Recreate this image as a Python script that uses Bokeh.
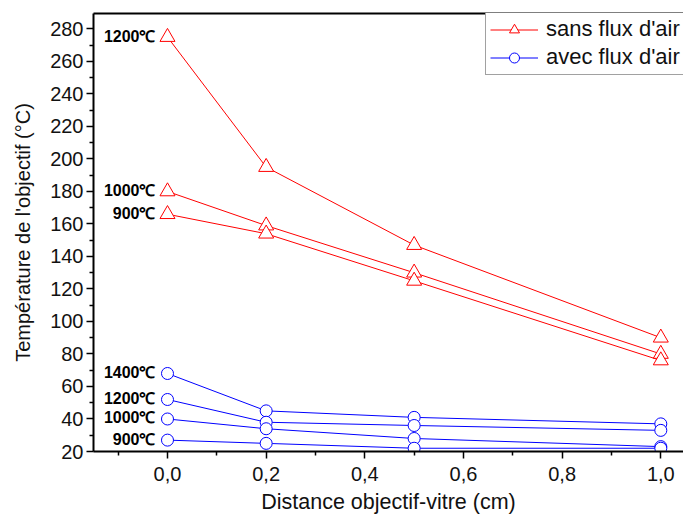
from bokeh.plotting import figure
from bokeh.models import (ColumnDataSource, FixedTicker, CustomJSTickFormatter, LinearAxis,
                          Legend, LegendItem, Range1d)
from bokeh.core.properties import value
from bokeh.embed import file_html
from bokeh.resources import INLINE

# ---- data ----
distance = [0.0, 0.2, 0.5, 1.0]

sans_labels = ["1200\u2103", "1000\u2103", "900\u2103"]
sans_1200 = [275, 195, 147, 90]
sans_1000 = [180, 159, 130, 80]
sans_900 = [166, 154, 125, 76]

avec_labels = ["1400\u2103", "1200\u2103", "1000\u2103", "900\u2103"]
avec_1400 = [68, 45, 41, 37]
avec_1200 = [52, 38, 36, 33]
avec_1000 = [40, 34, 28, 23]
avec_900 = [27, 25, 22, 22]

x_major = [0.0, 0.2, 0.4, 0.6, 0.8, 1.0]
x_minor = [-0.1, 0.1, 0.3, 0.5, 0.7, 0.9, 1.1]
y_major = list(range(20, 281, 20))
y_minor = list(range(30, 291, 20))

FONT = "Liberation Sans"
RED = "#ff0000"
BLUE = "#0000ff"

p = figure(width=683, height=520, output_backend="svg", toolbar_location=None,
           x_range=Range1d(-0.15, 1.046), y_range=Range1d(20, 289.5),
           min_border_left=93, min_border_right=0, min_border_top=13, min_border_bottom=69)
p.outline_line_color = None
p.xgrid.visible = False
p.ygrid.visible = False
p.background_fill_color = "white"

sans_series = [sans_1200, sans_1000, sans_900]
avec_series = [avec_1400, avec_1200, avec_1000, avec_900]

red_renderers = []
for ys in sans_series:
    src = ColumnDataSource(dict(x=distance, y=ys))
    l = p.line("x", "y", source=src, line_color=RED, line_width=1)
    m = p.scatter("x", "y", source=src, marker="triangle", size=15, line_color=RED,
                  fill_color="white", line_width=1)
    red_renderers += [l, m]

blue_renderers = []
for ys in avec_series:
    src = ColumnDataSource(dict(x=distance, y=ys))
    l = p.line("x", "y", source=src, line_color=BLUE, line_width=1)
    m = p.scatter("x", "y", source=src, marker="circle", size=12, line_color=BLUE,
                  fill_color="white", line_width=1)
    blue_renderers += [l, m]

# temperature labels at x = 0
lab_src = ColumnDataSource(dict(
    x=[distance[0]] * 7,
    y=[s[0] for s in sans_series] + [s[0] for s in avec_series],
    t=sans_labels + avec_labels,
))
p.text("x", "y", text="t", source=lab_src, text_align="right", text_baseline="middle",
       x_offset=-12, y_offset=-1, text_font=value(FONT), text_font_style="bold",
       text_font_size="16px", text_color="black")

# axes styling
fmt = CustomJSTickFormatter(code="return tick.toFixed(1).replace('.', ',');")
xa = p.xaxis[0]
xa.ticker = FixedTicker(ticks=x_major, minor_ticks=x_minor)
xa.formatter = fmt
ya = p.yaxis[0]
ya.ticker = FixedTicker(ticks=y_major, minor_ticks=y_minor)

for ax in (xa, ya):
    ax.axis_line_width = 2
    ax.axis_line_color = "black"
    ax.major_tick_line_width = 1.5
    ax.minor_tick_line_width = 1.5
    ax.major_tick_out = 7
    ax.major_tick_in = 0
    ax.minor_tick_out = 4
    ax.minor_tick_in = 0
    ax.major_label_text_font = FONT
    ax.major_label_text_font_size = "20px"
    ax.major_label_text_color = "#111111"
    ax.axis_label_text_font = FONT
    ax.axis_label_text_font_style = "normal"
    ax.axis_label_text_color = "#111111"

xa.axis_label = "Distance objectif-vitre (cm)"
xa.axis_label_text_font_size = "21.5px"
xa.major_label_standoff = 8
xa.axis_label_standoff = 6
ya.axis_label = "Température de l'objectif (°C)"
ya.axis_label_text_font_size = "20px"
ya.major_label_standoff = 3
ya.axis_label_standoff = 13

top = LinearAxis(ticker=FixedTicker(ticks=[]), axis_line_width=2, axis_line_color="black",
                 major_label_text_font_size="0px", major_tick_line_color=None,
                 minor_tick_line_color=None)
p.add_layout(top, "above")

legend = Legend(items=[
    LegendItem(label="sans flux d'air", renderers=red_renderers[:2]),
    LegendItem(label="avec flux d'air", renderers=blue_renderers[:2]),
], location=(392, 376))
legend.label_text_font = FONT
legend.label_text_font_size = "22px"
legend.label_text_color = "#111111"
legend.glyph_width = 48
legend.glyph_height = 25
legend.label_standoff = 8
legend.spacing = 2
legend.padding = 4
legend.margin = 0
legend.border_line_color = "#444444"
legend.border_line_width = 1
legend.background_fill_alpha = 1
p.add_layout(legend, "center")

open("out.html", "w").write(file_html(p, INLINE))
